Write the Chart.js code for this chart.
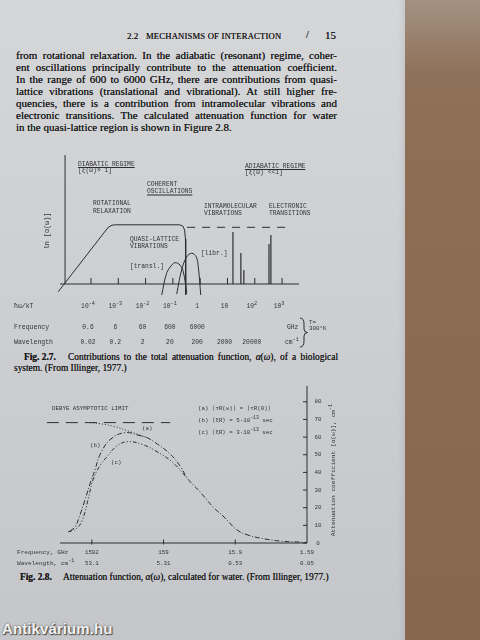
<!DOCTYPE html>
<html><head><meta charset="utf-8">
<script src="https://cdn.jsdelivr.net/npm/chart.js@4.4.0/dist/chart.umd.min.js"></script>
<style>
html,body{margin:0;padding:0;}
body{width:480px;height:640px;position:relative;overflow:hidden;background:linear-gradient(180deg,#d4d6d8 0%,#cdcfd2 45%,#c4c6c9 100%);}
#wood{position:absolute;left:405px;top:0;width:75px;height:640px;background:linear-gradient(180deg,#a39182 0%,#8f7058 12%,#8a6a50 60%,#87684f 100%);}
#edge{position:absolute;left:398px;top:0;width:7px;height:640px;background:linear-gradient(90deg,rgba(0,0,0,0),rgba(0,0,0,0.06));}
.t{position:absolute;font-family:"Liberation Serif",serif;font-size:11px;color:#1b1b1b;white-space:nowrap;line-height:12px;text-shadow:0 0 0.25px #333;}
.j{width:321px;text-align:justify;text-align-last:justify;}
.c{font-size:9.4px;}
canvas{position:absolute;left:0;}
#wm{position:absolute;left:2px;top:620px;font-family:"Liberation Sans",sans-serif;font-weight:bold;font-size:15px;color:#f2f2f2;text-shadow:1px 1px 1px #444,0 0 2px #555;letter-spacing:0.1px;}
</style></head>
<body>
<div id="wood"></div><div id="edge"></div>
<div class="t" style="left:127px;top:30px;font-size:9px;">2.2</div>
<div class="t" style="left:146px;top:30px;font-size:8.6px;letter-spacing:0.2px;">MECHANISMS OF INTERACTION</div>
<div class="t" style="left:306px;top:29px;font-size:10px;">/</div>
<div class="t" style="left:325px;top:29px;font-size:11px;">15</div>

<div class="t j" style="left:16px;top:49px;">from rotational relaxation. In the adiabatic (resonant) regime, coher-</div>
<div class="t j" style="left:16px;top:61px;">ent oscillations principally contribute to the attenuation coefficient.</div>
<div class="t j" style="left:16px;top:73px;">In the range of 600 to 6000 GHz, there are contributions from quasi-</div>
<div class="t j" style="left:16px;top:85px;">lattice vibrations (translational and vibrational). At still higher fre-</div>
<div class="t j" style="left:16px;top:97px;">quencies, there is a contribution from intramolecular vibrations and</div>
<div class="t j" style="left:16px;top:109px;">electronic transitions. The calculated attenuation function for water</div>
<div class="t" style="left:16px;top:121px;">in the quasi-lattice region is shown in Figure 2.8.</div>

<canvas id="fig7" width="406" height="210" style="top:140px"></canvas>

<div class="t c" style="left:24px;top:351px;font-weight:bold;">Fig. 2.7.</div>
<div class="t c" style="left:68px;top:351px;width:270px;text-align:justify;text-align-last:justify;">Contributions to the total attenuation function, <i>α</i>(<i>ω</i>), of a biological</div>
<div class="t c" style="left:14px;top:362px;">system. (From Illinger, 1977.)</div>

<canvas id="fig8" width="406" height="190" style="top:380px"></canvas>

<div class="t c" style="left:20px;top:571px;font-weight:bold;">Fig. 2.8.</div>
<div class="t c" style="left:63px;top:571px;">Attenuation function, <i>α</i>(<i>ω</i>), calculated for water. (From Illinger, 1977.)</div>

<div id="wm">Antikvárium.hu</div>

<script>
// ================= Fig. 2.7 data: x = log10(ħω/kT), y = ln[α(ω)] (arbitrary units) =================
const decadeExponents   = [-4, -3, -2, -1, 0, 1, 2, 3];
const reducedFreqLabels = ['10⁻⁴', '10⁻³', '10⁻²', '10⁻¹', '1', '10', '10²', '10³'];
const frequencyGHzLabels = ['0.6', '6', '60', '600', '6000'];
const wavelengthLabels  = ['0.02', '0.2', '2', '20', '200', '2000', '20000'];

const rotationalX = [-5.2, -3.37, -3.23, -3.1, -0.75, -0.64, -0.57, -0.54, -0.53];
const rotationalY = [-0.77, 5.67, 5.88, 5.92, 5.92, 5.8, 5.4, 4.5, -1.1];
const translX = [-1.41, -1.23, -1.04, -0.92, -0.74, -0.62, -0.49];
const translY = [-1.1, 1.07, 1.9, 2.13, 1.9, 1.23, -0.93];
const librX = [-0.86, -0.68, -0.49, -0.31, -0.15, -0.07, 0.02];
const librY = [-1.0, 1.4, 2.73, 3.07, 2.73, 1.73, -1.1];
const intramolecularX = [1.20, 1.49, 1.60];
const intramolecularH = [5.2, 3.1, 1.4];
const electronicX = [2.52, 2.59];
const electronicH = [4.0, 4.9];
const adiabaticLimitX = [-0.48, 3.18];
const adiabaticLimitY = [5.67, 5.67];

// ================= Fig. 2.8 data: x = log10(frequency / GHz), y = attenuation coefficient (cm⁻¹) =================
const freqTickGHz    = [1592, 159, 15.9, 1.59];
const freqTickLabels = ['1592', '159', '15.9', '1.59'];
const waveTickLabels = ['53.1', '5.31', '0.53', '0.05'];
const alphaTicks     = [0, 10, 20, 30, 40, 50, 60, 70, 80];

const debyeLimitX = [3.83, 2.11];
const debyeLimitY = [68.2, 68.2];
const curveA_logF  = [3.228, 3.089, 2.879, 2.67, 2.433];
const curveA_alpha = [68.2, 67.6, 65.9, 63.1, 59.7];
const curveB_logF  = [3.507, 3.437, 3.368, 3.298, 3.228, 3.158, 3.089, 2.949, 2.74, 2.53, 2.433, 2.321, 2.112, 1.96, 1.875, 1.693, 1.512, 1.344, 1.177, 1.023, 0.856, 0.577, 0.298, 0.2];
const curveB_alpha = [6.8, 9.1, 15.9, 24.4, 33.5, 41.5, 50.0, 58.5, 62.5, 60.8, 59.7, 57.0, 50.5, 43.0, 36.9, 29.0, 20.5, 14.2, 7.4, 4.5, 2.8, 1.1, 0.5, 0.3];
const curveC_logF  = [3.535, 3.424, 3.34, 3.256, 3.186, 3.089, 2.99, 2.85, 2.698, 2.489, 2.293, 2.084, 1.875];
const curveC_alpha = [6.25, 8.0, 12.5, 24.4, 35.8, 43.8, 48.9, 55.1, 57.4, 55.7, 51.7, 46.0, 36.9];

// ================= helpers =================
const INK = '#2d2d2d';
const zip = (xs, ys) => xs.map((x, i) => ({x: x, y: ys[i]}));
const sticks = (xs, hs) => xs.flatMap((x, i) => [{x: x, y: 0}, {x: x, y: hs[i]}, {x: x, y: null}]);
const mono = s => s + 'px "Liberation Mono", "DejaVu Sans Mono", monospace';
const SUP = {'⁻': '-', '⁰': '0', '¹': '1', '²': '2', '³': '3', '⁴': '4', '⁵': '5', '⁶': '6', '⁷': '7', '⁸': '8', '⁹': '9'};
function ln(ctx, x1, y1, x2, y2) { ctx.beginPath(); ctx.moveTo(x1, y1); ctx.lineTo(x2, y2); ctx.stroke(); }
// draws text, rendering unicode superscript runs as smaller raised text
function txt(ctx, s, x, y, size, align) {
  const runs = [];
  for (const ch of s) {
    const sup = SUP[ch] !== undefined;
    const c = sup ? SUP[ch] : ch;
    if (runs.length && runs[runs.length - 1].sup === sup) runs[runs.length - 1].t += c;
    else runs.push({t: c, sup: sup});
  }
  const supSize = size * 0.82;
  ctx.textBaseline = 'middle'; ctx.textAlign = 'left';
  let w = 0;
  runs.forEach(r => { ctx.font = mono(r.sup ? supSize : size); r.w = ctx.measureText(r.t).width; w += r.w; });
  let cx = align === 'center' ? x - w / 2 : (align === 'right' ? x - w : x);
  runs.forEach(r => { ctx.font = mono(r.sup ? supSize : size); ctx.fillText(r.t, cx, r.sup ? y - size * 0.4 : y); cx += r.w; });
}
function under(ctx, s, x, y, size) { ctx.font = mono(size); const w = ctx.measureText(s).width; ln(ctx, x, y, x + w, y); }
const baseLine = {pointRadius: 0, borderWidth: 1, borderColor: INK, fill: false};

// ================= Fig. 2.7 =================
const fig7Plugin = {
  id: 'fig7deco',
  afterDatasetsDraw(chart) {
    const ctx = chart.ctx, xs = chart.scales.x, ys = chart.scales.y;
    const X = v => xs.getPixelForValue(v), Y = v => ys.getPixelForValue(v);
    ctx.save();
    ctx.strokeStyle = INK; ctx.fillStyle = '#333'; ctx.lineWidth = 1;
    ln(ctx, X(-4.95), Y(12.9), X(-4.95), Y(0));
    ln(ctx, X(-5.13), Y(0), X(3.62), Y(0));
    decadeExponents.forEach(d => ln(ctx, X(d), Y(0), X(d), Y(0.6)));
    // annotations
    txt(ctx, 'DIABATIC REGIME', 78, 24, 6.3); under(ctx, 'DIABATIC REGIME', 78, 27.5, 6.3);
    txt(ctx, '[ξ(ω)» 1]', 78, 30.5, 6.3);
    txt(ctx, 'ADIABATIC REGIME', 245, 26, 6.3); under(ctx, 'ADIABATIC REGIME', 245, 29.5, 6.3);
    txt(ctx, '[ξ(ω) <<1]', 245, 32.5, 6.3);
    txt(ctx, 'COHERENT', 147, 44, 6.3);
    txt(ctx, 'OSCILLATIONS', 147, 51.5, 6.3); under(ctx, 'OSCILLATIONS', 147, 55, 6.3);
    txt(ctx, 'ROTATIONAL', 93, 63, 6.3); txt(ctx, 'RELAXATION', 93, 71, 6.3);
    txt(ctx, 'INTRAMOLECULAR', 204, 66, 6.3); txt(ctx, 'VIBRATIONS', 204, 73, 6.3);
    txt(ctx, 'ELECTRONIC', 269, 66, 6.3); txt(ctx, 'TRANSITIONS', 269, 73, 6.3);
    txt(ctx, 'QUASI-LATTICE', 130, 99, 6.3); txt(ctx, 'VIBRATIONS', 130, 106, 6.3);
    txt(ctx, '[transl.]', 130, 126, 6.3);
    txt(ctx, '[libr.]', 201, 113, 6.3);
    ctx.save(); ctx.translate(47, 91); ctx.rotate(-Math.PI / 2); txt(ctx, 'ln [α(ω)]', 0, 0, 6.8, 'center'); ctx.restore();
    // scale rows
    txt(ctx, 'ħω/kT', 14, 166, 6.5);
    decadeExponents.forEach((d, i) => txt(ctx, reducedFreqLabels[i], X(d) - 3, 166, 6.3, 'center'));
    txt(ctx, 'Frequency', 14, 187, 6.5);
    frequencyGHzLabels.forEach((s, i) => txt(ctx, s, X(decadeExponents[i]) - 3, 187, 6.3, 'center'));
    txt(ctx, 'GHz', 287, 187, 6.3);
    txt(ctx, 'Wavelength', 14, 202, 6.5);
    wavelengthLabels.forEach((s, i) => txt(ctx, s, X(decadeExponents[i]) - 3, 202, 6.3, 'center'));
    txt(ctx, 'cm⁻¹', 285, 202, 6.3);
    // brace
    ctx.beginPath(); ctx.moveTo(300, 178); ctx.quadraticCurveTo(304, 178, 304, 184); ctx.lineTo(304, 189);
    ctx.quadraticCurveTo(304, 192.5, 307.5, 192.5); ctx.quadraticCurveTo(304, 193, 304, 196); ctx.lineTo(304, 201);
    ctx.quadraticCurveTo(304, 207, 300, 207); ctx.stroke();
    txt(ctx, 'T=', 309, 182, 5.8); txt(ctx, '300°K', 309, 188.5, 5.8);
    ctx.restore();
  }
};

new Chart(document.getElementById('fig7'), {
  type: 'line',
  data: { datasets: [
    Object.assign({}, baseLine, {label: 'Rotational relaxation', data: zip(rotationalX, rotationalY), tension: 0}),
    Object.assign({}, baseLine, {label: 'transl.', data: zip(translX, translY), tension: 0.4}),
    Object.assign({}, baseLine, {label: 'libr.', data: zip(librX, librY), tension: 0.4}),
    Object.assign({}, baseLine, {label: 'Intramolecular vibrations', data: sticks(intramolecularX, intramolecularH), spanGaps: false, borderWidth: 1.2}),
    Object.assign({}, baseLine, {label: 'Electronic transitions', data: sticks(electronicX, electronicH), spanGaps: false, borderWidth: 1.2}),
    Object.assign({}, baseLine, {label: 'Adiabatic limit', data: zip(adiabaticLimitX, adiabaticLimitY), borderDash: [8, 7]})
  ]},
  options: {
    responsive: false, animation: false, devicePixelRatio: 1,
    layout: {padding: {left: 55.5, right: 104.8, top: 14, bottom: 53}},
    plugins: {legend: {display: false}, tooltip: {enabled: false}},
    scales: {
      x: {type: 'linear', min: -5.3, max: 3.7, display: false},
      y: {type: 'linear', min: -1.3, max: 13, display: false}
    }
  },
  plugins: [fig7Plugin]
});

// ================= Fig. 2.8 =================
const fig8Plugin = {
  id: 'fig8deco',
  afterDatasetsDraw(chart) {
    const ctx = chart.ctx, xs = chart.scales.x, ys = chart.scales.y;
    const X = v => xs.getPixelForValue(v), Y = v => ys.getPixelForValue(v);
    const ax = X(0.2);
    ctx.save();
    ctx.strokeStyle = INK; ctx.fillStyle = '#333'; ctx.lineWidth = 1;
    ln(ctx, X(3.647), Y(0), ax, Y(0));
    ln(ctx, ax, Y(0), ax, Y(89));
    freqTickGHz.slice(0, 3).forEach(f => ln(ctx, X(Math.log10(f)), Y(0) - 3.5, X(Math.log10(f)), Y(0) + 1.5));
    alphaTicks.forEach(v => { ln(ctx, ax - 4, Y(v), ax, Y(v)); txt(ctx, String(v), ax + 11, Y(v), 5.8, 'center'); });
    ctx.save(); ctx.translate(333, 90); ctx.rotate(-Math.PI / 2);
    txt(ctx, 'Attenuation coefficient [α(ω)], cm⁻¹', 0, 0, 6.2, 'center'); ctx.restore();
    txt(ctx, 'Frequency, GHz', 17, 172, 6.1);
    txt(ctx, 'Wavelength, cm⁻¹', 17, 183, 6.1);
    freqTickGHz.forEach((f, i) => {
      txt(ctx, freqTickLabels[i], X(Math.log10(f)), 172, 5.8, 'center');
      txt(ctx, waveTickLabels[i], X(Math.log10(f)), 183, 5.8, 'center');
    });
    txt(ctx, 'DEBYE ASYMPTOTIC LIMIT', 52, 28, 5.8);
    txt(ctx, '(a)', 142, 48, 5.8); txt(ctx, '(b)', 90, 65, 5.8); txt(ctx, '(c)', 111, 82, 5.8);
    txt(ctx, '(a) ⟨τR(ω)⟩ = ⟨τR(0)⟩', 198, 28, 5.8);
    txt(ctx, '(b) ⟨ξR⟩ = 5·10⁻¹³ sec', 198, 40, 5.8);
    txt(ctx, '(c) ⟨ξR⟩ = 3·10⁻¹³ sec', 198, 52, 5.8);
    ctx.restore();
  }
};

new Chart(document.getElementById('fig8'), {
  type: 'line',
  data: { datasets: [
    Object.assign({}, baseLine, {label: 'Debye asymptotic limit', data: zip(debyeLimitX, debyeLimitY), borderDash: [12, 7]}),
    Object.assign({}, baseLine, {label: '(a)', data: zip(curveA_logF, curveA_alpha), borderDash: [1, 2], tension: 0.4}),
    Object.assign({}, baseLine, {label: '(b)', data: zip(curveB_logF, curveB_alpha), borderDash: [5, 2, 1, 2], tension: 0.4}),
    Object.assign({}, baseLine, {label: '(c)', data: zip(curveC_logF, curveC_alpha), borderDash: [4, 2, 1, 2, 1, 2], tension: 0.4})
  ]},
  options: {
    responsive: false, animation: false, devicePixelRatio: 1,
    layout: {padding: {left: 44, right: 99, top: 5.9, bottom: 27}},
    plugins: {legend: {display: false}, tooltip: {enabled: false}},
    scales: {
      x: {type: 'linear', min: 0.2, max: 3.87, reverse: true, display: false},
      y: {type: 'linear', min: 0, max: 89, display: false}
    }
  },
  plugins: [fig8Plugin]
});
</script>
</body></html>
